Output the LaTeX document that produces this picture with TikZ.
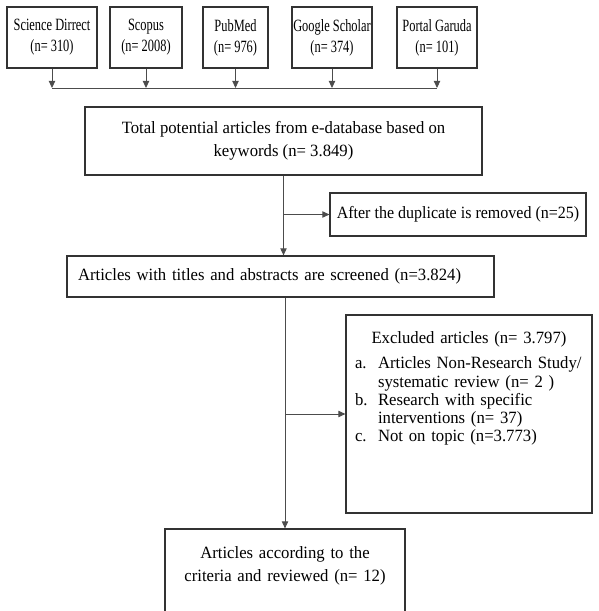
\documentclass[tikz,border=0pt]{standalone}
\usepackage{fontspec}
\setmainfont[FakeStretch=0.97]{Liberation Serif}
\newfontfamily\dbfont[FakeStretch=0.72]{Liberation Serif}
\newfontfamily\dupfont[FakeStretch=0.93]{Liberation Serif}
\usetikzlibrary{arrows.meta}

\newcommand{\fsz}{9.8}

\begin{document}
\begin{tikzpicture}[x=0.02cm,y=-0.02cm,
  box/.style={draw=black!80,line width=0.7pt,inner sep=0pt,font=\fontsize{\fsz}{13}\selectfont},
  dbbox/.style={box,font=\dbfont\fontsize{\fsz}{11.9}\selectfont,align=center,minimum width=#1,minimum height=1.22cm},
  link/.style={draw=black!70,line width=0.5pt},
  arr/.style={link,-{Triangle[length=4pt,width=3.6pt]}}]
  \useasboundingbox (0,0) rectangle (598,611);
  % databases
  \node[dbbox=1.80cm] (sd) at (52,37.5) {Science Dirrect\\(n= 310)};
  \node[dbbox=1.44cm] (sc) at (146,37.5) {Scopus\\(n= 2008)};
  \node[dbbox=1.30cm] (pm) at (235.5,37.5) {PubMed\\(n= 976)};
  \node[dbbox=1.60cm] (gs) at (332,37.5) {Google Scholar\\(n= 374)};
  \node[dbbox=1.60cm] (pg) at (437,37.5) {Portal Garuda\\(n= 101)};
  \coordinate (join) at (0,88);
  \foreach \db in {sd,sc,pm,gs,pg}
    \draw[arr] (\db.south) -- (\db.south |- join);
  \draw[link] (sd.south |- join) -- (pg.south |- join);

  % screening steps
  \node[box,align=center,minimum width=7.94cm,minimum height=1.36cm] (tot) at (283.5,141)
    {Total potential articles from e-database based on\\keywords (n= 3.849)};
  \node[box,font=\dupfont\fontsize{\fsz}{13}\selectfont,minimum width=5.12cm,minimum height=0.86cm] (dup) at (458,214.5)
    {After the duplicate is removed (n=25)};
  \node[box,text width=8.10cm,inner xsep=0.22cm,align=left,minimum height=0.82cm] (scr) at (280.5,276.5)
    {Articles with titles and abstracts are screened (n=3.824)};
  \node[box,font=\fontsize{\fsz}{10.4}\selectfont,text width=4.92cm,text height=0.56cm,text depth=3.4cm,anchor=base] (exc) at (469,343)
    {{\centering Excluded articles (n= 3.797)\par}
     \vspace{4.3pt}
     \hspace*{0.18cm}\begin{tabular}[t]{@{}p{0.46cm}@{}l@{}}
       a. & Articles Non-Research Study/\\
          & systematic review (n= 2 )\\
       b. & Research with specific\\
          & interventions (n= 37)\\
       c. & Not on topic (n=3.773)
     \end{tabular}};
  \node[box,font=\fontsize{\fsz}{13.6}\selectfont,text width=4.8cm,align=center,text height=0.58cm,text depth=1.24cm,anchor=base] (fin) at (285,558)
    {Articles according to the\\criteria and reviewed (n= 12)};

  \draw[arr] (tot.south) -- (tot.south |- scr.north);
  \draw[arr] (tot.south |- dup.west) -- (dup.west);
  \draw[arr] (fin.north |- scr.south) -- (fin.north);
  \draw[arr] (fin.north |- exc.west) -- (exc.west);
\end{tikzpicture}
\end{document}
